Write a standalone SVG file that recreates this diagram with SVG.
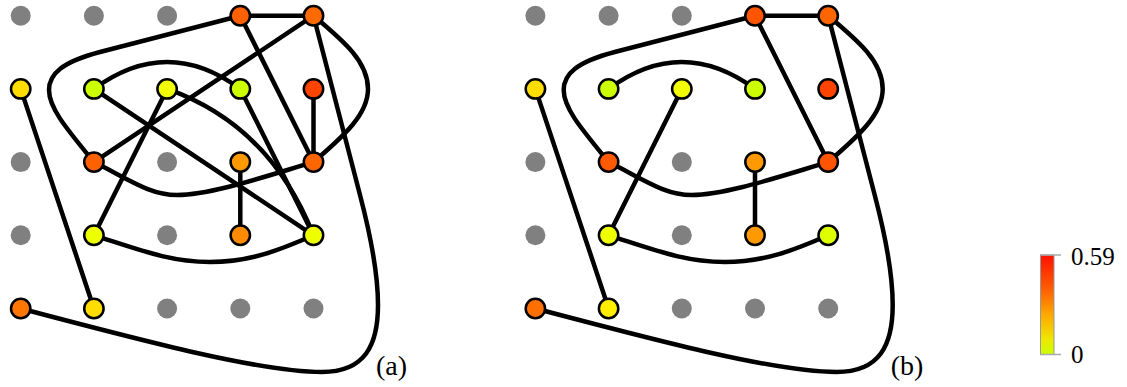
<svg xmlns="http://www.w3.org/2000/svg" width="1127" height="387" viewBox="0 0 1127 387">
<style>
.e{fill:none;stroke:#000;stroke-width:4.5;stroke-linecap:round;stroke-linejoin:round}
.g{fill:#808080}
.n{stroke:#000;stroke-width:2.5}
.lbl{font-family:"Liberation Serif","DejaVu Serif",serif;font-size:28px;fill:#000}
.cbl{font-family:"Liberation Serif","DejaVu Serif",serif;font-size:25px;fill:#000}
</style>
<defs>
<linearGradient id="cb" x1="0" y1="0" x2="0" y2="1">
<stop offset="0" stop-color="#ff1000"/>
<stop offset="0.35" stop-color="#ff6000"/>
<stop offset="0.6" stop-color="#ffa800"/>
<stop offset="0.85" stop-color="#eee800"/>
<stop offset="1" stop-color="#ccff00"/>
</linearGradient>
</defs>
<rect width="1127" height="387" fill="#fff"/>

<g id="panel-a">
<g id="a-connectors">
<path class="e" d="M240.3,15.7 L313.5,15.7"/>
<path class="e" d="M240.3,15.7 L100,52 C62,62 49,74 49,90 C49,108 66,128 93.9,162.1"/>
<path class="e" d="M313.5,15.7 L93.9,162.1"/>
<path class="e" d="M240.3,15.7 L313.5,162.1"/>
<path class="e" d="M313.5,15.7 C345,42 368,62 368,89 C368,114 345,135 313.5,162.1"/>
<path class="e" d="M313.5,15.7 L360,195 C370.5,235 378,275 378,305 C378,345 365,372 322,372 C260,372 140,340 20.7,308.5"/>
<path class="e" d="M93.9,88.9 Q167.1,35 240.3,88.9"/>
<path class="e" d="M93.9,88.9 L313.5,235.3"/>
<path class="e" d="M167.1,88.9 L93.9,235.3"/>
<path class="e" d="M167.1,88.9 Q270,125 313.5,235.3"/>
<path class="e" d="M240.3,88.9 L313.5,235.3"/>
<path class="e" d="M313.5,88.9 L313.5,162.1"/>
<path class="e" d="M93.9,162.1 C130,180 150,195 177,195 C210,195 260,178 313.5,162.1"/>
<path class="e" d="M240.3,162.1 L240.3,235.3"/>
<path class="e" d="M20.7,88.9 L93.9,308.5"/>
<path class="e" d="M93.9,235.3 C140,250 170,262 210,262 C250,262 280,250 313.5,235.3"/>
</g>
<g id="a-n00"><circle class="g" cx="20.7" cy="15.7" r="10"/></g>
<g id="a-n10"><circle class="g" cx="93.9" cy="15.7" r="10"/></g>
<g id="a-n20"><circle class="g" cx="167.1" cy="15.7" r="10"/></g>
<g id="a-n30"><circle class="n" cx="240.3" cy="15.7" r="9.7" fill="#ff6000"/></g>
<g id="a-n40"><circle class="n" cx="313.5" cy="15.7" r="9.7" fill="#ff6a00"/></g>
<g id="a-n01"><circle class="n" cx="20.7" cy="88.9" r="9.7" fill="#ffdd00"/></g>
<g id="a-n11"><circle class="n" cx="93.9" cy="88.9" r="9.7" fill="#ccff00"/></g>
<g id="a-n21"><circle class="n" cx="167.1" cy="88.9" r="9.7" fill="#f2ff00"/></g>
<g id="a-n31"><circle class="n" cx="240.3" cy="88.9" r="9.7" fill="#ccff00"/></g>
<g id="a-n41"><circle class="n" cx="313.5" cy="88.9" r="9.7" fill="#ff4400"/></g>
<g id="a-n02"><circle class="g" cx="20.7" cy="162.1" r="10"/></g>
<g id="a-n12"><circle class="n" cx="93.9" cy="162.1" r="9.7" fill="#ff6000"/></g>
<g id="a-n22"><circle class="g" cx="167.1" cy="162.1" r="10"/></g>
<g id="a-n32"><circle class="n" cx="240.3" cy="162.1" r="9.7" fill="#ff9900"/></g>
<g id="a-n42"><circle class="n" cx="313.5" cy="162.1" r="9.7" fill="#ff6600"/></g>
<g id="a-n03"><circle class="g" cx="20.7" cy="235.3" r="10"/></g>
<g id="a-n13"><circle class="n" cx="93.9" cy="235.3" r="9.7" fill="#eeff00"/></g>
<g id="a-n23"><circle class="g" cx="167.1" cy="235.3" r="10"/></g>
<g id="a-n33"><circle class="n" cx="240.3" cy="235.3" r="9.7" fill="#ff8c00"/></g>
<g id="a-n43"><circle class="n" cx="313.5" cy="235.3" r="9.7" fill="#eeff00"/></g>
<g id="a-n04"><circle class="n" cx="20.7" cy="308.5" r="9.7" fill="#ff7700"/></g>
<g id="a-n14"><circle class="n" cx="93.9" cy="308.5" r="9.7" fill="#ffdd00"/></g>
<g id="a-n24"><circle class="g" cx="167.1" cy="308.5" r="10"/></g>
<g id="a-n34"><circle class="g" cx="240.3" cy="308.5" r="10"/></g>
<g id="a-n44"><circle class="g" cx="313.5" cy="308.5" r="10"/></g>
<text class="lbl" x="376" y="375">(a)</text>
</g>

<g id="panel-b" transform="translate(514.7,0)">
<g id="b-connectors">
<path class="e" d="M240.3,15.7 L313.5,15.7"/>
<path class="e" d="M240.3,15.7 L100,52 C62,62 49,74 49,90 C49,108 66,128 93.9,162.1"/>
<path class="e" d="M240.3,15.7 L313.5,162.1"/>
<path class="e" d="M313.5,15.7 C345,42 368,62 368,89 C368,114 345,135 313.5,162.1"/>
<path class="e" d="M313.5,15.7 L360,195 C370.5,235 378,275 378,305 C378,345 365,372 322,372 C260,372 140,340 20.7,308.5"/>
<path class="e" d="M93.9,88.9 Q167.1,35 240.3,88.9"/>
<path class="e" d="M167.1,88.9 L93.9,235.3"/>
<path class="e" d="M93.9,162.1 C130,180 150,195 177,195 C210,195 260,178 313.5,162.1"/>
<path class="e" d="M240.3,162.1 L240.3,235.3"/>
<path class="e" d="M20.7,88.9 L93.9,308.5"/>
<path class="e" d="M93.9,235.3 C140,250 170,262 210,262 C250,262 280,250 313.5,235.3"/>
</g>
<g id="b-n00"><circle class="g" cx="20.7" cy="15.7" r="10"/></g>
<g id="b-n10"><circle class="g" cx="93.9" cy="15.7" r="10"/></g>
<g id="b-n20"><circle class="g" cx="167.1" cy="15.7" r="10"/></g>
<g id="b-n30"><circle class="n" cx="240.3" cy="15.7" r="9.7" fill="#ff5500"/></g>
<g id="b-n40"><circle class="n" cx="313.5" cy="15.7" r="9.7" fill="#ff6600"/></g>
<g id="b-n01"><circle class="n" cx="20.7" cy="88.9" r="9.7" fill="#ffdd00"/></g>
<g id="b-n11"><circle class="n" cx="93.9" cy="88.9" r="9.7" fill="#ccff00"/></g>
<g id="b-n21"><circle class="n" cx="167.1" cy="88.9" r="9.7" fill="#f2ff00"/></g>
<g id="b-n31"><circle class="n" cx="240.3" cy="88.9" r="9.7" fill="#ccff00"/></g>
<g id="b-n41"><circle class="n" cx="313.5" cy="88.9" r="9.7" fill="#ff4400"/></g>
<g id="b-n02"><circle class="g" cx="20.7" cy="162.1" r="10"/></g>
<g id="b-n12"><circle class="n" cx="93.9" cy="162.1" r="9.7" fill="#ff5a00"/></g>
<g id="b-n22"><circle class="g" cx="167.1" cy="162.1" r="10"/></g>
<g id="b-n32"><circle class="n" cx="240.3" cy="162.1" r="9.7" fill="#ff9900"/></g>
<g id="b-n42"><circle class="n" cx="313.5" cy="162.1" r="9.7" fill="#ff5500"/></g>
<g id="b-n03"><circle class="g" cx="20.7" cy="235.3" r="10"/></g>
<g id="b-n13"><circle class="n" cx="93.9" cy="235.3" r="9.7" fill="#eeff00"/></g>
<g id="b-n23"><circle class="g" cx="167.1" cy="235.3" r="10"/></g>
<g id="b-n33"><circle class="n" cx="240.3" cy="235.3" r="9.7" fill="#ff9900"/></g>
<g id="b-n43"><circle class="n" cx="313.5" cy="235.3" r="9.7" fill="#ddff00"/></g>
<g id="b-n04"><circle class="n" cx="20.7" cy="308.5" r="9.7" fill="#ff7000"/></g>
<g id="b-n14"><circle class="n" cx="93.9" cy="308.5" r="9.7" fill="#ffee00"/></g>
<g id="b-n24"><circle class="g" cx="167.1" cy="308.5" r="10"/></g>
<g id="b-n34"><circle class="g" cx="240.3" cy="308.5" r="10"/></g>
<g id="b-n44"><circle class="g" cx="313.5" cy="308.5" r="10"/></g>
<text class="lbl" x="376" y="375">(b)</text>
</g>

<g id="colorbar">
<rect x="1040.5" y="255" width="13.5" height="99.5" fill="url(#cb)" stroke="#999" stroke-width="1"/>
<line x1="1040" y1="255" x2="1061" y2="255" stroke="#aaa" stroke-width="1.5"/>
<line x1="1040" y1="354.5" x2="1061" y2="354.5" stroke="#aaa" stroke-width="1.5"/>
<text class="cbl" x="1071" y="265">0.59</text>
<text class="cbl" x="1071" y="363">0</text>
</g>
</svg>
